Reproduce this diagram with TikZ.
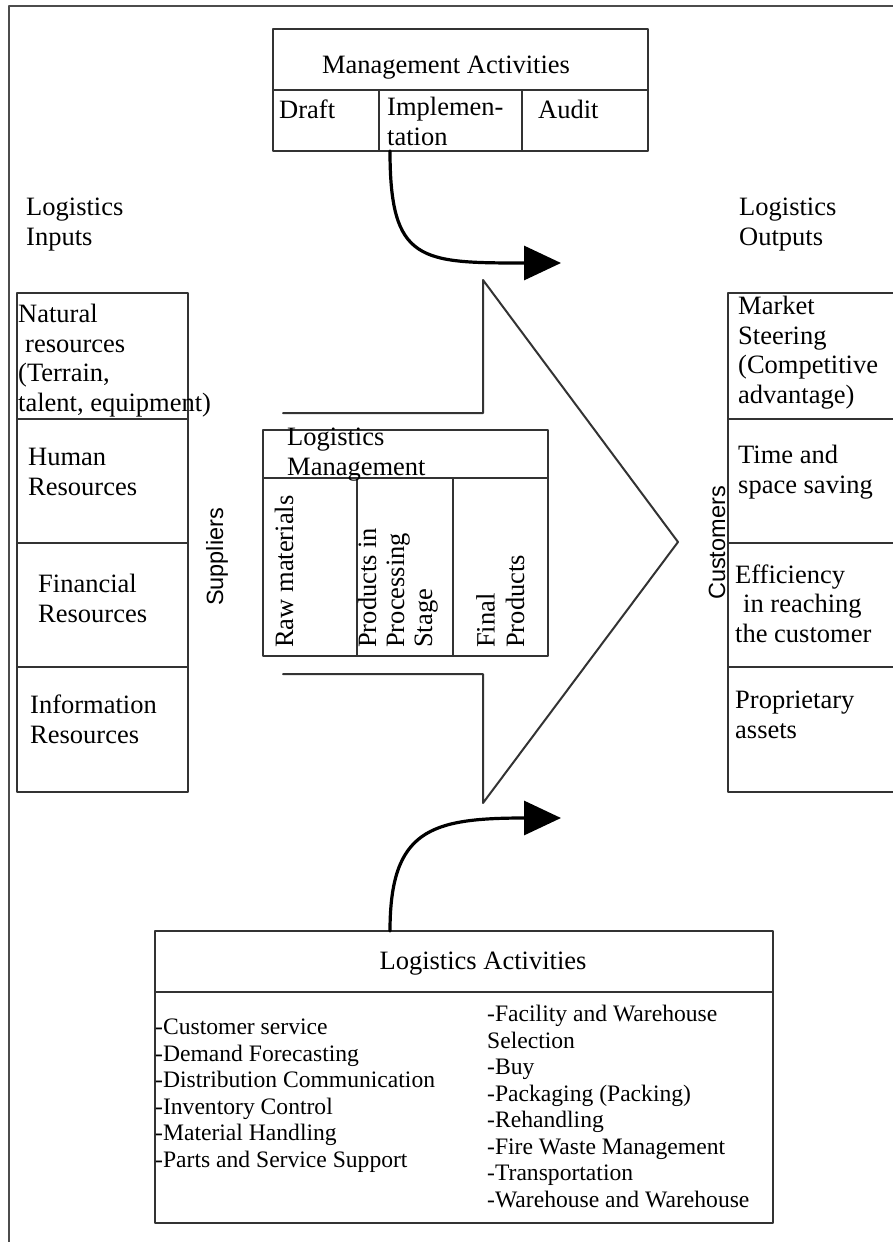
\documentclass[tikz,border=0pt]{standalone}
\usepackage{fontspec}
\setmainfont{Liberation Serif}
\setsansfont{Liberation Sans}
\usetikzlibrary{arrows.meta}
\definecolor{framegray}{rgb}{0.3,0.3,0.3}
\definecolor{boxgray}{rgb}{0.2,0.2,0.2}

\tikzset{
  cell/.style={draw=boxgray, line width=2.2pt, anchor=north west, inner sep=0pt, outer sep=0pt},
  txt/.style={font=\fontsize{26.5}{29.5}\selectfont, inner sep=0pt, align=left, anchor=base west},
  lst/.style={font=\fontsize{23.6}{26.5}\selectfont, inner sep=0pt, align=left, anchor=base west},
  side/.style={font=\sffamily\fontsize{23.5}{26}\selectfont, inner sep=0pt, rotate=90, anchor=base},
  flow/.style={line width=3.2pt, -{Triangle[length=37pt, width=34pt]}},
}

\begin{document}
\begin{tikzpicture}[line cap=round, line join=round, x=1pt, y=-1pt]
\path[use as bounding box, clip] (0,0) rectangle (893,1242);
% outer frame
\draw[framegray, line width=1.8pt] (9,1250) -- (9,6) -- (900,6);

% management activities (multi-line texts sit on their last baseline)
\node[cell, minimum width=375, minimum height=61] (mgmt) at (273,29) {};
\node[cell, minimum width=106, minimum height=61] (draft) at (273,90) {};
\node[cell, minimum width=143, minimum height=61] (impl) at (379,90) {};
\node[cell, minimum width=126, minimum height=61] (audit) at (522,90) {};
\node[txt, anchor=base] (mgmttxt) at (446,73) {Management Activities};
\node[txt] (drafttxt) at (279,118) {Draft};
\node[txt] (impltxt) at (387,145) {Implemen-\\tation};
\node[txt] (audittxt) at (538,118) {Audit};

\node[txt] (intitle) at (26,245) {Logistics\\Inputs};
\node[txt] (outtitle) at (739,245) {Logistics\\Outputs};

% inputs and outputs
\foreach \n/\y/\h in {a/293/126,b/419/124,c/543/124,d/667/125}{
  \node[cell, minimum width=171, minimum height=\h] (in\n) at (17,\y) {};
  \node[cell, minimum width=200, minimum height=\h] (out\n) at (728,\y) {};
}
\node[txt] (natural) at (18,411) {Natural\\\hspace{7pt}resources\\(Terrain,\\talent, equipment)};
\node[txt] (human) at (28,495) {Human\\Resources};
\node[txt] (financial) at (38,622) {Financial\\Resources};
\node[txt] (information) at (30,743) {Information\\Resources};

\node[txt] (market) at (738,403) {Market\\Steering\\(Competitive\\advantage)};
\node[txt] (timesave) at (738,493) {Time and\\space saving};
\node[txt] (efficiency) at (735,642) {Efficiency\\\hspace{8pt}in reaching\\the customer};
\node[txt] (assets) at (735,738) {Proprietary\\assets};

\node[side] (suppliers) at (223,557) {Suppliers};
\node[side] (customers) at (725,543) {Customers};

% big arrow
\draw[boxgray, line width=2pt] (283,413) -- (483,413) -- (483,280) -- (678,542)
  -- (483,803) -- (483,674) -- (283,674);

% logistics management
\node[cell, minimum width=285, minimum height=48] (lm) at (263,430) {};
\node[cell, minimum width=94, minimum height=178] (raw) at (263,478) {};
\node[cell, minimum width=96, minimum height=178] (proc) at (357,478) {};
\node[cell, minimum width=95, minimum height=178] (final) at (453,478) {};
\node[txt] (lmtxt) at (287,475) {Logistics\\Management};
\node[txt, rotate=90] (rawtxt) at (293,648) {Raw materials};
\node[txt, rotate=90, font=\fontsize{26.5}{28}\selectfont] (proctxt) at (432,648) {Products in\\Processing\\Stage};
\node[txt, rotate=90] (finaltxt) at (524,648) {Final\\Products};

% logistics activities
\node[cell, minimum width=618, minimum height=61] (acts) at (155,931) {};
\node[cell, minimum width=618, minimum height=231] (actlist) at (155,992) {};
\node[txt, anchor=base] (actstxt) at (483,969) {Logistics Activities};
\node[lst] (leftlist) at (155,1167) {-Customer service\\-Demand Forecasting\\-Distribution Communication\\-Inventory Control\\-Material Handling\\-Parts and Service Support};
\node[lst] (rightlist) at (487,1207) {-Facility and Warehouse\\Selection\\-Buy\\-Packaging (Packing)\\-Rehandling\\-Fire Waste Management\\-Transportation\\-Warehouse and Warehouse};

% curved arrows
\coordinate (mgmtend) at (561,263);
\coordinate (actsend) at (561,818);
\draw[flow] ([xshift=11pt]impl.south west) .. controls (390,262) and (420,263) .. (mgmtend);
\draw[flow] ([xshift=235pt]acts.north west) .. controls (390,830) and (430,818) .. (actsend);
\end{tikzpicture}
\end{document}
